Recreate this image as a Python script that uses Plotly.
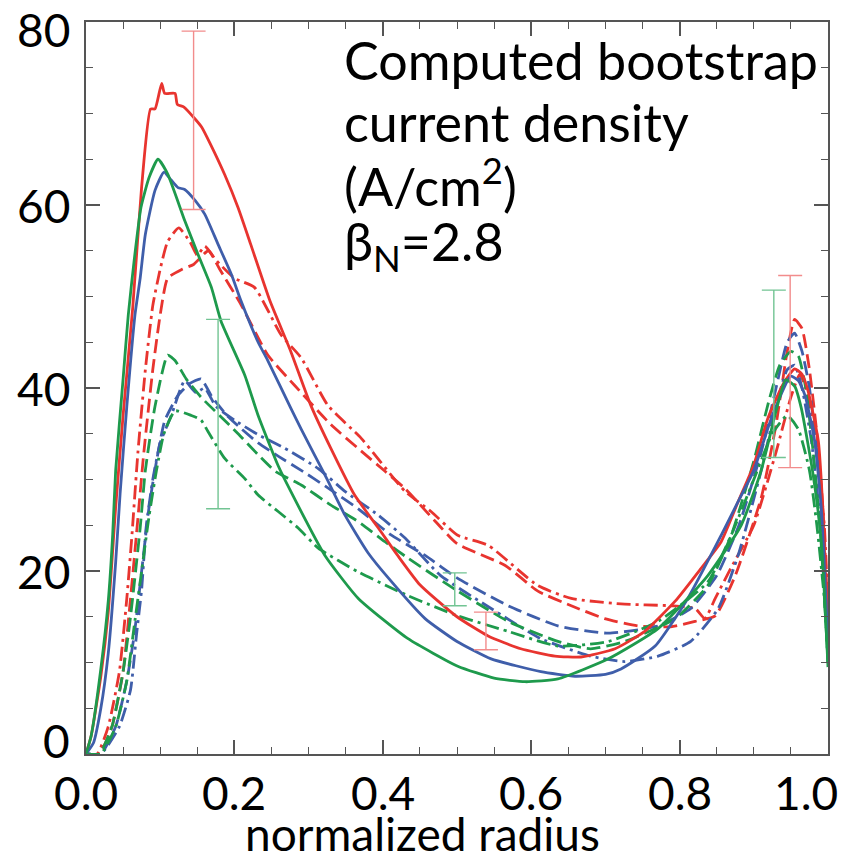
import plotly.graph_objects as go

# ---------------- data ----------------
red_solid_x = [0, 0.007, 0.02, 0.03, 0.04, 0.05, 0.063, 0.075, 0.087, 0.093, 0.102, 0.106, 0.12, 0.123, 0.132, 0.147, 0.156, 0.168, 0.187, 0.205, 0.222, 0.248, 0.276, 0.303, 0.33, 0.362, 0.394, 0.42, 0.45, 0.5, 0.542, 0.586, 0.632, 0.667, 0.713, 0.753, 0.794, 0.829, 0.856, 0.879, 0.9, 0.919, 0.94, 0.955, 0.965, 0.973, 0.987, 0.993, 1.0]
red_solid_y = [0, 2, 8.5, 15.5, 27, 37, 48.8, 62, 70.5, 70.5, 73.3, 72.2, 72.2, 71, 70.7, 69.4, 68.5, 66.6, 63.3, 59.7, 55.7, 49.5, 44, 38.1, 33.4, 28.3, 24.7, 21.7, 18.5, 15, 12.9, 11.5, 10.7, 10.6, 11.5, 13.4, 16.7, 20.3, 23.2, 27.6, 31.6, 36.7, 40.5, 42.1, 41.5, 39.7, 34.2, 26.8, 12]

blue_solid_x = [0, 0.01, 0.02, 0.03, 0.04, 0.046, 0.055, 0.066, 0.073, 0.08, 0.093, 0.105, 0.115, 0.124, 0.133, 0.147, 0.16, 0.178, 0.196, 0.209, 0.232, 0.245, 0.276, 0.29, 0.322, 0.349, 0.38, 0.41, 0.457, 0.5, 0.546, 0.613, 0.659, 0.7, 0.721, 0.767, 0.811, 0.856, 0.879, 0.9, 0.925, 0.95, 0.96, 0.969, 0.982, 0.991, 1.0]
blue_solid_y = [0, 1.2, 5, 11, 21, 28.5, 38, 48, 52, 56.8, 61.6, 63.6, 62.7, 61.9, 61.7, 60.5, 59, 55.7, 52.4, 49.5, 45, 43, 37.8, 35.5, 30.5, 26.1, 22, 19, 14.8, 12.3, 10.4, 9, 8.5, 8.7, 9.3, 11.8, 17, 23.9, 27.6, 31, 37, 41.3, 40.8, 39.2, 34.2, 26.8, 12]

green_solid_x = [0, 0.007, 0.02, 0.03, 0.036, 0.04, 0.05, 0.057, 0.065, 0.074, 0.085, 0.097, 0.11, 0.133, 0.151, 0.169, 0.182, 0.214, 0.232, 0.259, 0.276, 0.322, 0.367, 0.434, 0.501, 0.55, 0.592, 0.636, 0.704, 0.771, 0.838, 0.883, 0.91, 0.93, 0.943, 0.955, 0.964, 0.98, 0.991, 1.0]
green_solid_y = [0, 2, 9.3, 16.7, 24, 31, 41, 48, 54, 59.7, 63, 65, 63.4, 58.3, 54.6, 51, 47.3, 41.4, 37, 31.5, 28.7, 21.7, 17, 12.6, 9.6, 8.3, 7.9, 8.2, 10.4, 13.7, 19.5, 25, 31, 37.5, 40.9, 40.2, 37.8, 30.5, 23.2, 9.5]

red_dashdot_x = [0, 0.015, 0.03, 0.045, 0.055, 0.062, 0.07, 0.08, 0.09, 0.1, 0.11, 0.125, 0.14, 0.15, 0.16, 0.175, 0.2, 0.227, 0.263, 0.29, 0.326, 0.371, 0.43, 0.465, 0.501, 0.542, 0.609, 0.654, 0.721, 0.788, 0.821, 0.834, 0.848, 0.869, 0.9, 0.93, 0.95, 0.962, 0.972, 0.985, 0.995, 1.0]
red_dashdot_y = [0, 0, 3, 9, 17, 24, 33, 42, 49, 53, 56, 57.5, 56, 54.5, 55.5, 54, 52, 51, 45.8, 43.3, 38.1, 34.5, 28.7, 26.5, 23.9, 22.8, 18.4, 17, 16.4, 16.2, 15.9, 14.8, 17, 20.3, 25, 33, 39, 41.5, 39.5, 33, 25, 16]

red_dash_x = [0, 0.018, 0.035, 0.05, 0.06, 0.068, 0.078, 0.09, 0.1, 0.11, 0.13, 0.145, 0.165, 0.18, 0.209, 0.245, 0.281, 0.33, 0.371, 0.403, 0.43, 0.47, 0.5, 0.565, 0.609, 0.654, 0.699, 0.744, 0.788, 0.821, 0.848, 0.875, 0.91, 0.93, 0.945, 0.955, 0.965, 0.975, 0.985, 0.993, 1.0]
red_dash_y = [0, 0, 3, 9, 17, 24, 33, 42, 48, 52, 53, 53.5, 55, 53, 49.1, 43.6, 40.3, 36, 33.1, 30.9, 29, 25.5, 23, 20.6, 17.8, 16.2, 14.8, 14, 13.9, 14.5, 15.1, 19.5, 28, 36, 44, 47.5, 46.5, 42, 35, 27, 15]

blue_dash_x = [0, 0.02, 0.04, 0.055, 0.065, 0.075, 0.085, 0.095, 0.106, 0.124, 0.14, 0.155, 0.17, 0.19, 0.21, 0.232, 0.26, 0.29, 0.322, 0.367, 0.41, 0.457, 0.501, 0.569, 0.636, 0.704, 0.771, 0.815, 0.85, 0.88, 0.91, 0.93, 0.945, 0.955, 0.965, 0.975, 0.985, 0.993, 1.0]
blue_dash_y = [0, 0, 3, 8, 13, 20, 27, 32, 36.4, 39.2, 40.5, 41, 39, 37, 35.5, 34, 32.5, 31, 29.3, 26.8, 24, 21.7, 19.2, 16.2, 14, 13.2, 14, 15.9, 19.5, 25, 33, 40, 45, 46, 44, 40, 33, 25, 12]

blue_dashdot_x = [0, 0.02, 0.045, 0.06, 0.068, 0.075, 0.081, 0.09, 0.1, 0.115, 0.133, 0.148, 0.16, 0.175, 0.2, 0.232, 0.268, 0.313, 0.349, 0.394, 0.43, 0.478, 0.546, 0.613, 0.68, 0.726, 0.771, 0.815, 0.852, 0.88, 0.91, 0.93, 0.945, 0.955, 0.965, 0.978, 0.99, 1.0]
blue_dashdot_y = [0, 0, 3, 7, 13, 18, 24.7, 30, 34, 37, 40.8, 39.5, 40, 38, 36.5, 34.9, 33.4, 31.2, 28.7, 26.1, 23.6, 19.5, 15.9, 12.6, 10.7, 10.1, 10.7, 12.3, 15.9, 22, 31, 38, 42, 42.5, 40, 34, 25, 12]

green_dash_x = [0, 0.018, 0.035, 0.05, 0.06, 0.073, 0.08, 0.093, 0.11, 0.12, 0.135, 0.155, 0.18, 0.205, 0.232, 0.255, 0.29, 0.33, 0.367, 0.403, 0.434, 0.501, 0.569, 0.636, 0.68, 0.726, 0.794, 0.838, 0.87, 0.9, 0.92, 0.935, 0.95, 0.96, 0.97, 0.98, 0.99, 1.0]
green_dash_y = [0, 0, 3, 9, 15, 24.7, 31, 38, 43.6, 43, 41, 39, 37, 35, 32.7, 30.9, 29.4, 27.2, 25.4, 23.2, 21.4, 17.8, 14.5, 12.3, 11.5, 12.3, 14.8, 18.4, 24, 32, 38.5, 42.5, 44, 43.5, 40, 33, 24, 10]

green_dashdot_x = [0, 0.02, 0.04, 0.055, 0.065, 0.075, 0.085, 0.095, 0.105, 0.12, 0.142, 0.155, 0.164, 0.187, 0.214, 0.232, 0.259, 0.286, 0.313, 0.367, 0.434, 0.501, 0.569, 0.636, 0.704, 0.771, 0.838, 0.87, 0.9, 0.925, 0.945, 0.96, 0.975, 0.985, 0.995, 1.0]
green_dashdot_y = [0, 0, 3, 8, 14, 20, 26, 31, 35, 37.5, 37, 36.5, 35.3, 32.3, 30.1, 28.3, 26.5, 24.7, 22.5, 19.9, 17.3, 15.1, 13.4, 11.8, 12.3, 14.5, 18.8, 24, 30, 35, 37, 35.5, 31, 25, 17, 10]

# error bars: position, lower, upper
red_err_x = [0.145, 0.539, 0.949]
red_err_lo = [59.5, 11.4, 31.3]
red_err_hi = [79.0, 15.5, 52.3]
green_err_x = [0.178, 0.497, 0.927]
green_err_lo = [26.8, 16.2, 32.4]
green_err_hi = [47.5, 19.8, 50.7]

x_ticks = [0.0, 0.2, 0.4, 0.6, 0.8, 1.0]
x_tick_labels = ["0.0", "0.2", "0.4", "0.6", "0.8", "1.0"]
y_ticks = [0, 20, 40, 60, 80]
y_tick_labels = ["0", "20", "40", "60", "80"]

note_lines = ["Computed bootstrap", "current density", "(A/cm<sup>2</sup>)", "β<sub>N</sub>=2.8"]

# ---------------- styling ----------------
RED = "#E8342F"
BLUE = "#3F5EAA"
GREEN = "#1E9A4C"
RED_ERR = "#F28C8C"
GREEN_ERR = "#72C493"
FONT = "Lato"
DASH = "14px,6px"
DASHDOT = "14px,5px,3px,5px"
PLOT_TOP, PLOT_BOTTOM = 14, 746  # pixel rows of the plot frame

fig = go.Figure()

curves = [
    (red_dashdot_x, red_dashdot_y, RED, DASHDOT),
    (red_dash_x, red_dash_y, RED, DASH),
    (blue_dashdot_x, blue_dashdot_y, BLUE, DASHDOT),
    (blue_dash_x, blue_dash_y, BLUE, DASH),
    (green_dashdot_x, green_dashdot_y, GREEN, DASHDOT),
    (green_dash_x, green_dash_y, GREEN, DASH),
    (red_solid_x, red_solid_y, RED, "solid"),
    (blue_solid_x, blue_solid_y, BLUE, "solid"),
    (green_solid_x, green_solid_y, GREEN, "solid"),
]
for xs, ys, col, dash in curves:
    fig.add_trace(go.Scatter(x=xs, y=ys, mode="lines",
                             line=dict(color=col, width=2.8, dash=dash, shape="spline", smoothing=0.5),
                             showlegend=False, hoverinfo="skip"))

def add_err(xs, lo, hi, col):
    mid = [(a + b) / 2 for a, b in zip(lo, hi)]
    half = [(b - a) / 2 for a, b in zip(lo, hi)]
    fig.add_trace(go.Scatter(
        x=xs, y=mid, mode="markers",
        marker=dict(size=0.1, color="rgba(0,0,0,0)"),
        error_y=dict(type="data", array=half, visible=True,
                     color=col, thickness=1.4, width=12),
        showlegend=False, hoverinfo="skip"))

add_err(red_err_x, red_err_lo, red_err_hi, RED_ERR)
add_err(green_err_x, green_err_lo, green_err_hi, GREEN_ERR)

AX = "#555555"
TICKFONT = dict(family=FONT, size=46, color="black")
fig.update_xaxes(
    range=[0, 1.0], tickvals=x_ticks, showticklabels=False,
    ticks="inside", ticklen=14, tickwidth=1.5, tickcolor=AX,
    minor=dict(dtick=0.05, ticks="inside", ticklen=7, tickwidth=1.3, tickcolor=AX),
    showline=True, linecolor=AX, linewidth=1.5, mirror="ticks",
    showgrid=False, zeroline=False, automargin=False,
)
fig.update_yaxes(
    range=[0, 80], tickvals=y_ticks, showticklabels=False,
    ticks="inside", ticklen=14, tickwidth=1.5, tickcolor=AX,
    minor=dict(dtick=5, ticks="inside", ticklen=7, tickwidth=1.3, tickcolor=AX),
    showline=True, linecolor=AX, linewidth=1.5, mirror="ticks",
    showgrid=False, zeroline=False, automargin=False,
)

# x tick labels as text at the tick positions (last one kept inside the page, as in the reference)
for v, t in zip(x_ticks, x_tick_labels):
    if v == x_ticks[-1]:
        fig.add_annotation(x=v, y=0, xref="x", yref="paper", text=t, showarrow=False,
                           xanchor="right", yanchor="middle", yshift=-38, xshift=12,
                           font=TICKFONT)
    else:
        fig.add_annotation(x=v, y=0, xref="x", yref="paper", text=t, showarrow=False,
                           xanchor="center", yanchor="middle", yshift=-38,
                           font=TICKFONT)
# y tick labels (0 raised, 80 lowered, as in the reference)
y_label_shift = {0: 14, 80: -7}
for v, t in zip(y_ticks, y_tick_labels):
    fig.add_annotation(x=0, y=v, xref="paper", yref="y", text=t, showarrow=False,
                       xanchor="right", yanchor="middle", xshift=-14,
                       yshift=y_label_shift.get(v, 0), font=TICKFONT)

fig.add_annotation(x=0.453, y=0, xref="paper", yref="paper", text="normalized radius",
                   showarrow=False, xanchor="center", yanchor="middle", yshift=-79,
                   font=dict(family=FONT, size=46, color="black"))

# multi-line note, one text per line to keep the reference's line spacing
note_centers_px = [52, 114, 175, 237]
for line, py in zip(note_lines, note_centers_px):
    fig.add_annotation(
        x=0.345, y=(PLOT_BOTTOM - py) / (PLOT_BOTTOM - PLOT_TOP), xref="paper", yref="paper",
        xanchor="left", yanchor="middle", align="left", showarrow=False,
        text=line, font=dict(family=FONT, size=52, color="black"),
    )

fig.update_layout(
    width=846, height=857,
    margin=dict(l=78, r=26, t=PLOT_TOP, b=857 - PLOT_BOTTOM, autoexpand=False),
    paper_bgcolor="white", plot_bgcolor="white",
    showlegend=False,
)

fig.write_html("out.html")
